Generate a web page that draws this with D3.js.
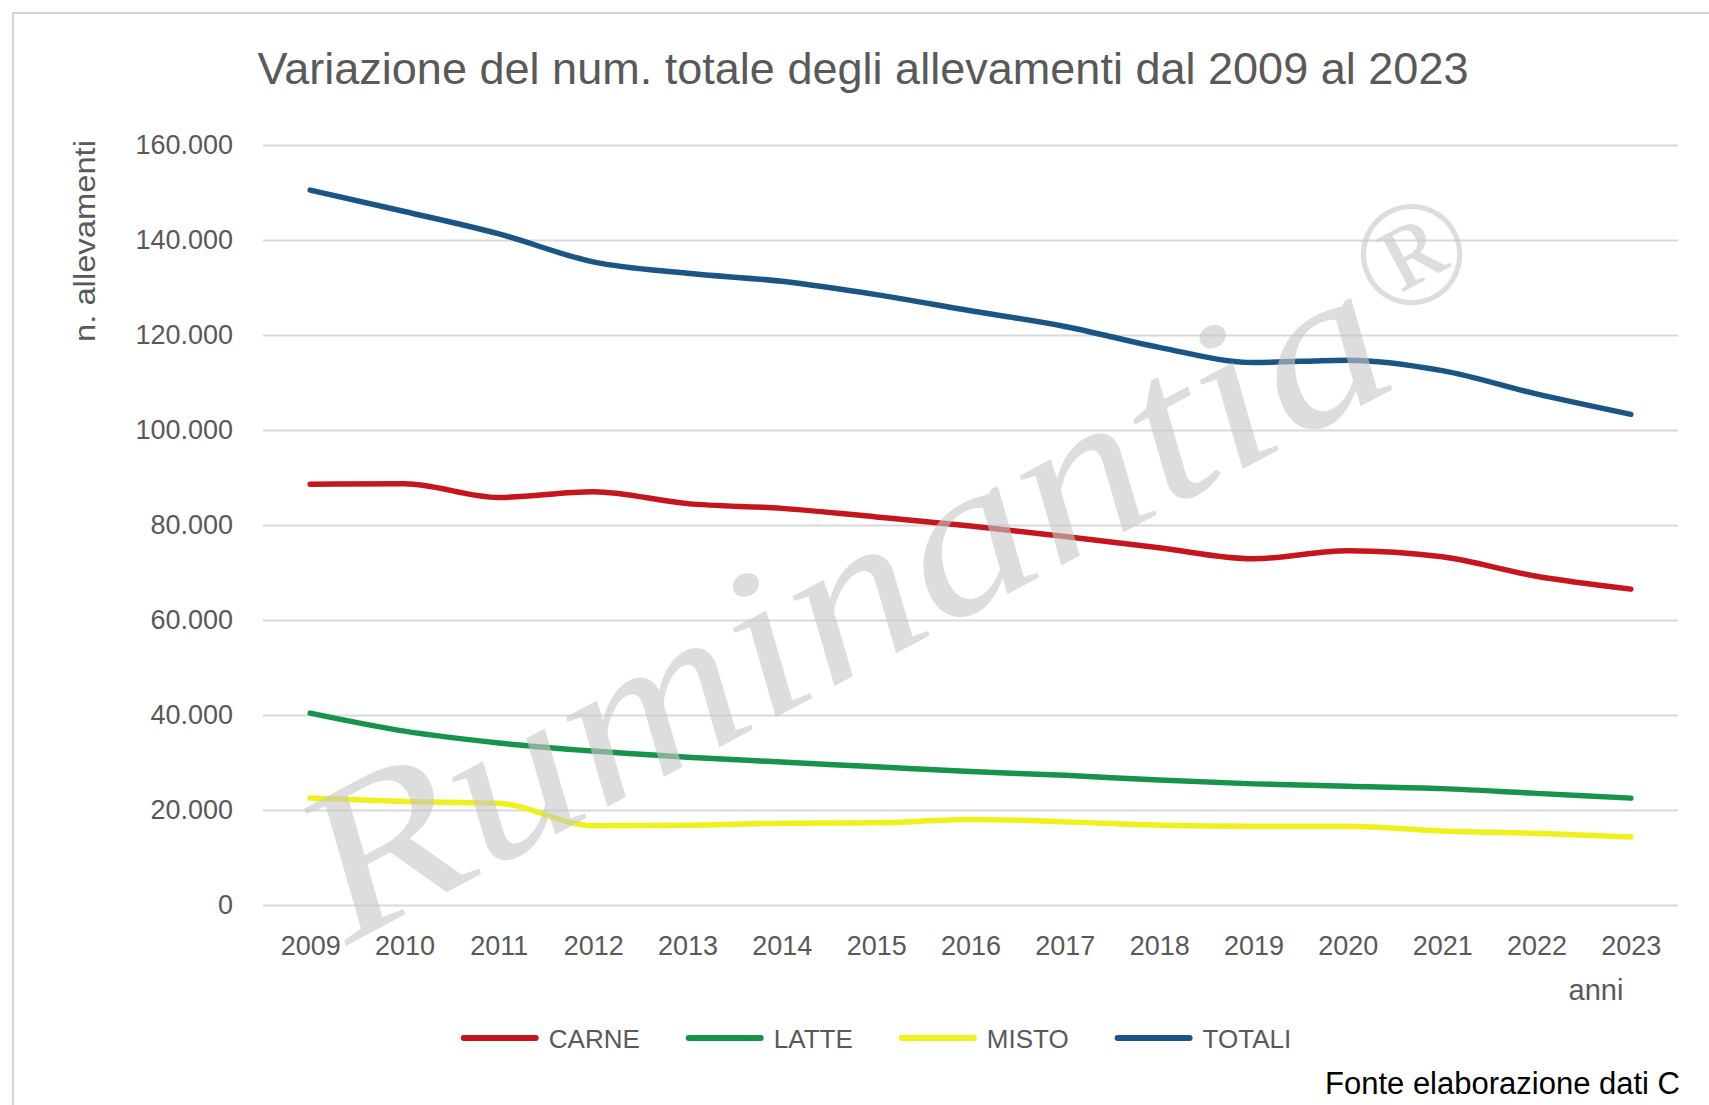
<!DOCTYPE html>
<html>
<head>
<meta charset="utf-8">
<script src="https://cdn.jsdelivr.net/npm/d3@7"></script>
<style>
  body { margin: 0; background: #fff; overflow: hidden; }
  .axis text { fill: #595959; font-family: "Liberation Sans", Arial, sans-serif; font-size: 27px; }
  .axis .domain { display: none; }
  .y.axis line { stroke: #d9d9d9; stroke-width: 2; }
</style>
</head>
<body>
<div id="chart-area"></div>
<script>
// values
var years = ["2009","2010","2011","2012","2013","2014","2015","2016","2017","2018","2019","2020","2021","2022","2023"];
var carne  = [88600, 88700, 85800, 87000, 84500, 83500, 81700, 79800, 77600, 75200, 72900, 74600, 73300, 69200, 66500];
var latte  = [40400, 36600, 34100, 32400, 31100, 30100, 29100, 28100, 27300, 26300, 25500, 25000, 24500, 23500, 22500];
var misto  = [22500, 21800, 21400, 16700, 16800, 17200, 17300, 18000, 17500, 16800, 16600, 16600, 15600, 15100, 14300];
var totali = [150500, 146000, 141300, 135400, 133000, 131300, 128500, 125100, 121800, 117400, 114200, 114700, 112500, 107600, 103300];
var seriesNames = ["CARNE", "LATTE", "MISTO", "TOTALI"];
var seriesColors = ["#c5161d", "#17934c", "#f0f01c", "#1b5585"];
var yTicks = [0, 20000, 40000, 60000, 80000, 100000, 120000, 140000, 160000];

var width = 1709;
var height = 1105;
var margin = { top: 145, right: 31, bottom: 200, left: 263 };
var chartWidth = width - margin.left - margin.right;
var chartHeight = height - margin.top - margin.bottom;

var svg = d3.select("#chart-area")
	.append("svg")
	.attr("width", width)
	.attr("height", height);

// outer frame
svg.append("rect")
	.attr("x", 13).attr("y", 13)
	.attr("width", 1760).attr("height", 1200)
	.attr("fill", "none")
	.attr("stroke", "#d4d4d4")
	.attr("stroke-width", 2);

svg.append("text")
	.attr("x", 863)
	.attr("y", 84)
	.attr("text-anchor", "middle")
	.attr("fill", "#595959")
	.attr("font-family", "'Liberation Sans Narrow', 'Liberation Sans', Arial, sans-serif")
	.attr("font-size", "44px")
	.attr("textLength", 1211)
	.attr("lengthAdjust", "spacingAndGlyphs")
	.text("Variazione del num. totale degli allevamenti dal 2009 al 2023");

var g = svg.append("g")
	.attr("transform", "translate(" + margin.left + ", " + margin.top + ")");

var xScale = d3.scalePoint()
	.domain(years)
	.range([0, chartWidth])
	.padding(0.5);

var yScale = d3.scaleLinear()
	.domain([0, 160000])
	.range([chartHeight, 0]);

var it = d3.formatLocale({ decimal: ",", thousands: ".", grouping: [3], currency: ["€", ""] });

var yAxis = d3.axisLeft(yScale)
	.tickValues(yTicks)
	.tickSize(-chartWidth)
	.tickPadding(30)
	.tickFormat(it.format(",d"));
g.append("g").attr("class", "y axis").call(yAxis);

var xAxis = d3.axisBottom(xScale).tickSize(0).tickPadding(31);
g.append("g")
	.attr("class", "x axis")
	.attr("transform", "translate(0," + chartHeight + ")")
	.call(xAxis);

// watermark
var wm = svg.append("g")
	.attr("transform", "translate(843,600) rotate(-28)")
	.attr("fill", "#c8c8c8")
	.attr("opacity", 0.6)
	.attr("font-family", "'Liberation Serif', 'DejaVu Serif', serif")
	.attr("font-style", "italic");
wm.append("text")
	.attr("x", 0).attr("y", 72)
	.attr("text-anchor", "middle")
	.attr("font-size", "215px")
	.attr("textLength", 1200)
	.attr("lengthAdjust", "spacingAndGlyphs")
	.text("Ruminantia");
wm.append("text")
	.attr("x", 664).attr("y", -40)
	.attr("text-anchor", "middle")
	.attr("dominant-baseline", "central")
	.attr("font-style", "normal")
	.attr("font-size", "150px")
	.text("®");

var seriesData = [carne, latte, misto, totali];

var line = d3.line()
	.x((d, i) => xScale(years[i]))
	.y(d => yScale(d))
	.curve(d3.curveMonotoneX);

g.selectAll(".series")
	.data(seriesData)
	.enter().append("path")
	.attr("class", "series")
	.attr("d", line)
	.attr("fill", "none")
	.attr("stroke", (d, i) => seriesColors[i])
	.attr("stroke-width", 5.5)
	.attr("stroke-linecap", "round")
	.attr("stroke-linejoin", "round");

svg.append("text")
	.attr("transform", "translate(95,241) rotate(-90)")
	.attr("text-anchor", "middle")
	.attr("fill", "#595959")
	.attr("font-family", "'Liberation Sans', Arial, sans-serif")
	.attr("font-size", "30px")
	.attr("textLength", 202)
	.attr("lengthAdjust", "spacingAndGlyphs")
	.text("n. allevamenti");

svg.append("text")
	.attr("x", 1596)
	.attr("y", 1000)
	.attr("text-anchor", "middle")
	.attr("fill", "#595959")
	.attr("font-family", "'Liberation Sans', Arial, sans-serif")
	.attr("font-size", "29px")
	.text("anni");

// legend
var legend = svg.append("g").attr("transform", "translate(0,1038)");
var lx = 0;
seriesNames.forEach(function (name, i) {
	var item = legend.append("g").attr("transform", "translate(" + lx + ",0)");
	item.append("line")
		.attr("x1", 3).attr("x2", 75)
		.attr("y1", 0).attr("y2", 0)
		.attr("stroke", seriesColors[i])
		.attr("stroke-width", 6)
		.attr("stroke-linecap", "round");
	var t = item.append("text")
		.attr("x", 88)
		.attr("y", 10)
		.attr("fill", "#595959")
		.attr("font-family", "'Liberation Sans', Arial, sans-serif")
		.attr("font-size", "26px")
		.text(name);
	lx += 88 + t.node().getComputedTextLength() + 46;
});
lx -= 46;
legend.attr("transform", "translate(" + (876 - lx / 2) + ",1038)");

svg.append("text")
	.attr("x", 1325)
	.attr("y", 1094)
	.attr("fill", "#000")
	.attr("font-family", "'Liberation Sans', Arial, sans-serif")
	.attr("font-size", "31px")
	.text("Fonte elaborazione dati C");
</script>
</body>
</html>
